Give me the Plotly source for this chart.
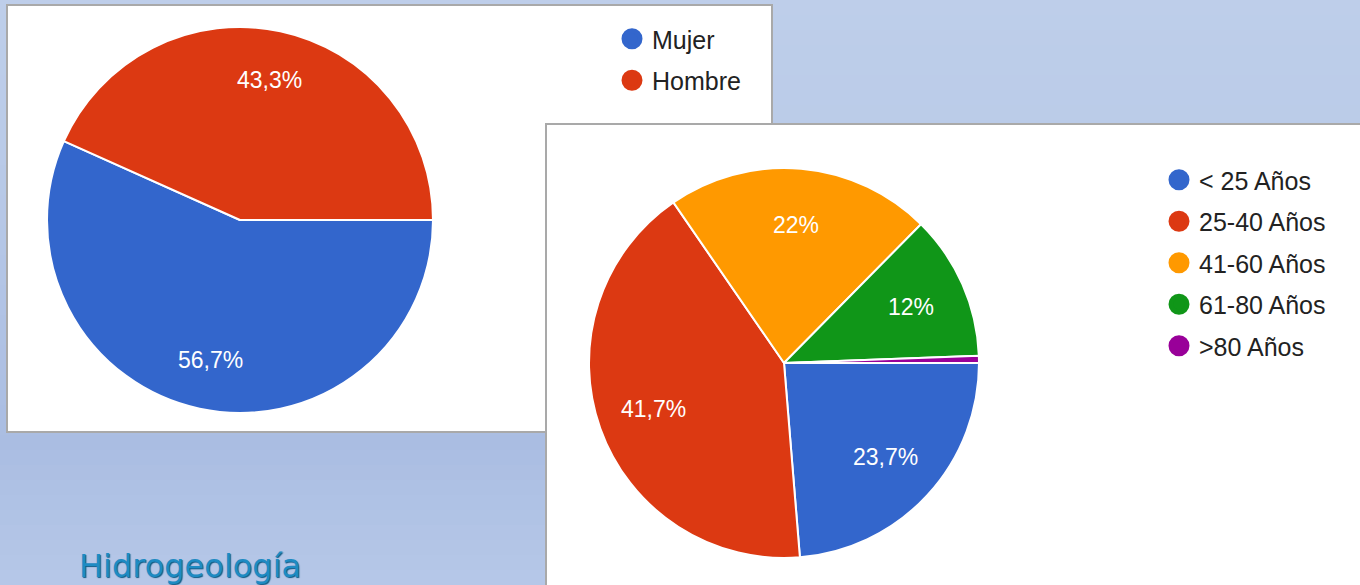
import math
import plotly.graph_objects as go

# ---- data ----
sex_labels = ["Mujer", "Hombre"]
sex_values = [56.7, 43.3]
sex_colors = ["#3366CC", "#DC3912"]

age_labels = ["< 25 Años", "25-40 Años", "41-60 Años", "61-80 Años", ">80 Años"]
age_values = [23.7, 41.7, 22.0, 12.0, 0.6]
age_colors = ["#3366CC", "#DC3912", "#FF9900", "#109618", "#990099"]
age_show_label = [True, True, True, True, False]

W, H = 1360, 585
FONT = "Arial, Liberation Sans, sans-serif"
ROTATION = 90


def px_x(v):
    return v / W


def px_y(v):
    return 1 - v / H


def fmt_pct(frac):
    s = ("%.1f" % (frac * 100)).rstrip("0").rstrip(".")
    return s.replace(".", ",") + "%"


def slice_labels(values, show, cx, cy, r, ratio):
    """Label annotations placed along each slice bisector (computed from the values)."""
    total = float(sum(values))
    cum = 0.0
    out = []
    for v, s in zip(values, show):
        frac = v / total
        theta = math.radians(ROTATION + 360 * (cum + frac / 2))
        cum += frac
        if not s:
            continue
        x = cx + ratio * r * math.sin(theta)
        y = cy - ratio * r * math.cos(theta)
        out.append(dict(text=fmt_pct(frac), xref="paper", yref="paper",
                        x=px_x(x), y=px_y(y), xanchor="center", yanchor="middle",
                        showarrow=False, font=dict(color="white", size=23, family=FONT)))
    return out


L_CX, L_CY, L_R = 240, 220, 193
R_CX, R_CY, R_R = 784, 363, 195

fig = go.Figure()

fig.add_trace(go.Pie(
    labels=sex_labels, values=sex_values, sort=False, direction="clockwise", rotation=ROTATION,
    marker=dict(colors=sex_colors, line=dict(color="white", width=2)),
    textinfo="none",
    domain=dict(x=[px_x(L_CX - L_R), px_x(L_CX + L_R)], y=[px_y(L_CY + L_R), px_y(L_CY - L_R)]),
    showlegend=False, hoverinfo="label+percent",
))

fig.add_trace(go.Pie(
    labels=age_labels, values=age_values, sort=False, direction="clockwise", rotation=ROTATION,
    marker=dict(colors=age_colors, line=dict(color="white", width=2)),
    textinfo="none",
    domain=dict(x=[px_x(R_CX - R_R), px_x(R_CX + R_R)], y=[px_y(R_CY + R_R), px_y(R_CY - R_R)]),
    showlegend=False, hoverinfo="label+percent",
))

for i, (lab, col) in enumerate(zip(sex_labels, sex_colors)):
    fig.add_trace(go.Scatter(
        x=[None], y=[None], mode="markers", name=lab, legendgroup="s%d" % i,
        marker=dict(symbol="circle", size=16, color=col, line=dict(color=col, width=5)),
        legend="legend",
    ))
for i, (lab, col) in enumerate(zip(age_labels, age_colors)):
    fig.add_trace(go.Scatter(
        x=[None], y=[None], mode="markers", name=lab, legendgroup="a%d" % i,
        marker=dict(symbol="circle", size=16, color=col, line=dict(color=col, width=5)),
        legend="legend2",
    ))

legend_common = dict(
    bgcolor="rgba(0,0,0,0)", borderwidth=0, tracegroupgap=6,
    font=dict(size=25, color="#222222", family=FONT),
    xanchor="left", yanchor="top",
)

# soft vertical background gradient
grad_stops = [(0, (0xBE, 0xCE, 0xEA)), (140, (0xBA, 0xCB, 0xE8)), (440, (0xAA, 0xBD, 0xE2)),
              (585, (0xB6, 0xC8, 0xE8))]
bg_shapes = []
step = 15
for y0 in range(0, H, step):
    ym = y0 + step / 2
    for (a, ca), (b, cb) in zip(grad_stops[:-1], grad_stops[1:]):
        if a <= ym <= b:
            t = (ym - a) / (b - a)
            c = tuple(round(ca[k] + t * (cb[k] - ca[k])) for k in range(3))
            break
    bg_shapes.append(dict(type="rect", xref="paper", yref="paper", x0=0, x1=1,
                          y0=px_y(min(y0 + step + 1, H)), y1=px_y(y0),
                          fillcolor="rgb(%d,%d,%d)" % c, line=dict(width=0), layer="below"))

panels = [
    dict(type="rect", xref="paper", yref="paper", x0=px_x(7), x1=px_x(772), y0=px_y(432), y1=px_y(5),
         fillcolor="white", line=dict(color="#A9A9A9", width=2), layer="below"),
    dict(type="rect", xref="paper", yref="paper", x0=px_x(546), x1=px_x(1365), y0=px_y(590), y1=px_y(124),
         fillcolor="white", line=dict(color="#A9A9A9", width=2), layer="below"),
]

annotations = slice_labels(sex_values, [True, True], L_CX, L_CY, L_R, 0.74)
annotations += slice_labels(age_values, age_show_label, R_CX, R_CY, R_R, 0.71)
annotations.append(dict(text="Hidrogeología", xref="paper", yref="paper", x=px_x(77), y=px_y(566),
                        xanchor="left", yanchor="middle", showarrow=False,
                        font=dict(size=32, color="#1E8BC3", family="DejaVu Sans",
                                  shadow="1px 1px 1px #0E5A86")))

fig.update_layout(
    width=W, height=H,
    margin=dict(l=0, r=0, t=0, b=0),
    paper_bgcolor="#B5C7E7",
    plot_bgcolor="rgba(0,0,0,0)",
    separators=",.",
    xaxis=dict(visible=False),
    yaxis=dict(visible=False),
    legend=dict(x=px_x(612), y=px_y(16), **legend_common),
    legend2=dict(x=px_x(1159), y=px_y(157), **legend_common),
    shapes=bg_shapes + panels,
    annotations=annotations,
)

fig.write_html("out.html", config={"displayModeBar": False},
               post_script="document.body.style.margin='0';")
